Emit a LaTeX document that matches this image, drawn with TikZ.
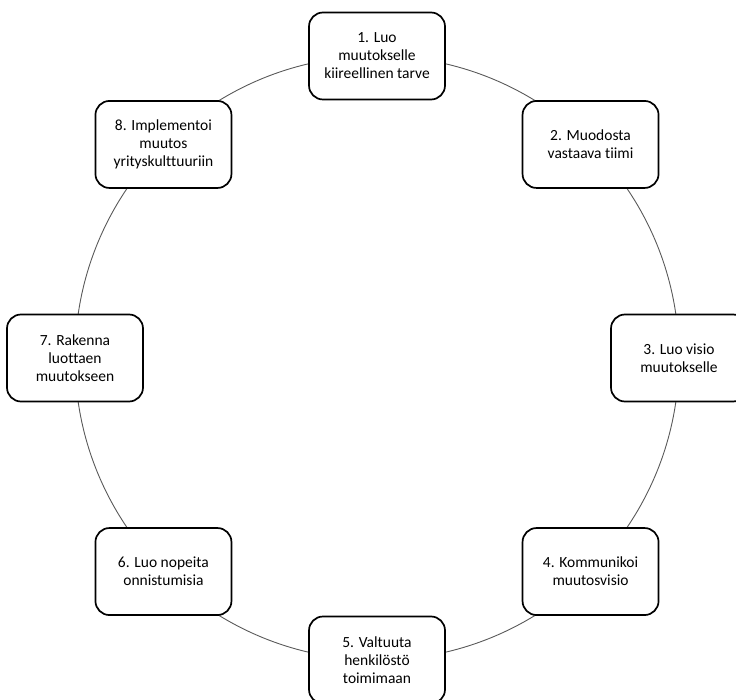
\documentclass[tikz,border=0pt]{standalone}
\usepackage{fontspec}
\setmainfont[Ligatures=NoCommon]{Carlito}
\usetikzlibrary{calc}
\begin{document}
\begin{tikzpicture}[x=1pt,y=1pt,
  stage/.style={draw=black, line width=1.7pt, rounded corners=14pt, fill=white,
    minimum width=136pt, minimum height=87pt, align=center, inner sep=2pt,
    font=\fontsize{15.5}{18}\selectfont, text=black},
  ring/.style={draw=black!65, line width=0.9pt}]
\useasboundingbox (0,0) rectangle (736,-700);
\coordinate (c) at (377,-358);
\draw[ring] (c) circle[radius=302];
\node[stage] (n1) at ($(c)+(90:302)$) {1. Luo\\muutokselle\\kiireellinen tarve};
\node[stage] (n2) at ($(c)+(45:302)$) {2. Muodosta\\vastaava tiimi};
\node[stage] (n3) at ($(c)+(0:302)$) {3. Luo visio\\muutokselle};
\node[stage] (n4) at ($(c)+(-45:302)$) {4. Kommunikoi\\muutosvisio};
\node[stage] (n5) at ($(c)+(-90:302)$) {5. Valtuuta\\henkilöstö\\toimimaan};
\node[stage] (n6) at ($(c)+(-135:302)$) {6. Luo nopeita\\onnistumisia};
\node[stage] (n7) at ($(c)+(180:302)$) {7. Rakenna\\luottaen\\muutokseen};
\node[stage] (n8) at ($(c)+(135:302)$) {8. Implementoi\\muutos\\yrityskulttuuriin};
\end{tikzpicture}
\end{document}
